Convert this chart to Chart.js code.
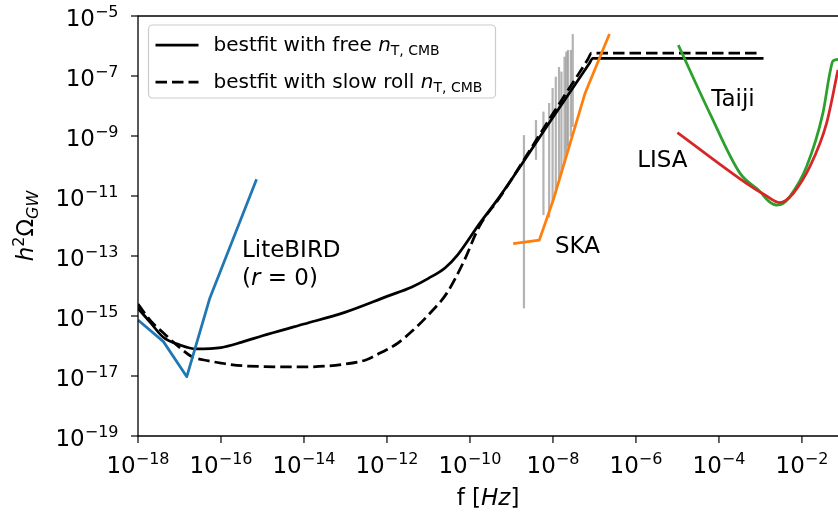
<!DOCTYPE html>
<html lang="en">
<head>
<meta charset="UTF-8">
<title>h2 Omega_GW vs frequency</title>
<script src="https://cdn.jsdelivr.net/npm/chart.js@4.4.1/dist/chart.umd.min.js"></script>
<style>
  html, body { margin: 0; padding: 0; background: #fff; }
  #chart { display: block; }
</style>
</head>
<body>
<canvas id="chart" width="838" height="517"></canvas>
<script>
// values: f in Hz, h^2 Omega_GW
const freeF = [1e-18, 2e-18, 4e-18, 1e-17, 2.5e-17, 1e-16, 3.2e-16, 1e-15, 1e-14, 1e-13, 1e-12, 4e-12, 1e-11, 2.5e-11, 5e-11, 1.7e-10, 5.2e-10, 1e-8, 7.5e-8, 9.1e-8, 1.1e-3];
const freeH = [1.8e-15, 6e-16, 2e-16, 1.1e-16, 8e-17, 8.9e-17, 1.35e-16, 2.2e-16, 5.4e-16, 1.35e-15, 4.5e-15, 9.3e-15, 1.8e-14, 4e-14, 1.07e-13, 1.2e-12, 9.5e-12, 4.2e-9, 2.6e-7, 3.9e-7, 3.9e-7];

const slowF = [1e-18, 2e-18, 4e-18, 1e-17, 2e-17, 5e-17, 1e-16, 3.2e-16, 1e-14, 1e-13, 3.2e-13, 6.8e-13, 1.6e-12, 4.3e-12, 1.1e-11, 2.8e-11, 7e-11, 1.7e-10, 5.2e-10, 1e-8, 7e-8, 8.5e-8, 1.02e-3];
const slowH = [2.5e-15, 7e-16, 2.8e-16, 9e-17, 4.4e-17, 3.2e-17, 2.7e-17, 2.2e-17, 2e-17, 2.5e-17, 3.5e-17, 5.8e-17, 1.1e-16, 3.4e-16, 1.26e-15, 5.9e-15, 6.3e-14, 1e-12, 8.9e-12, 5.6e-9, 3.7e-7, 5.8e-7, 5.8e-7];

const lbF = [1e-18, 4.1e-18, 1.5e-17, 5.4e-17, 7.2e-16];
const lbH = [7.4e-16, 1.4e-16, 9.5e-18, 4e-15, 3.6e-11];

const skaF = [1.1e-9, 4.7e-9, 1.02e-8, 5.9e-8, 2.3e-7];
const skaH = [2.6e-13, 3.4e-13, 7.4e-12, 2.6e-8, 2.5e-6];

// pulsar timing bars (vertical segments)
const ptaF  = [2.0e-9, 3.9e-9, 5.9e-9, 8.1e-9, 9.8e-9, 1.17e-8, 1.4e-8, 1.6e-8, 1.9e-8, 2.1e-8, 2.3e-8, 2.7e-8, 3.0e-8];
const ptaLo = [1.8e-15, 1.6e-10, 2.3e-12, 1.9e-12, 5.9e-12, 1.2e-11, 3.4e-11, 5.9e-11, 1.2e-10, 2.6e-10, 4.4e-10, 9.5e-10, 2e-9];
const ptaHi = [1.07e-9, 3.4e-9, 6.5e-9, 1.26e-8, 4e-8, 9.5e-8, 2e-7, 1.4e-7, 4.4e-7, 6.5e-7, 7.4e-7, 7.4e-7, 2.5e-6];

const tjF = [1.05e-5, 6e-5, 3.2e-4, 9.8e-4, 1.6e-3, 2.45e-3, 3.5e-3, 5.1e-3, 1.29e-2, 3.2e-2, 4.7e-2, 5.6e-2, 7.9e-2];
const tjH = [1.07e-6, 5.8e-9, 5.8e-11, 1.4e-11, 6.6e-12, 5e-12, 5.6e-12, 9.5e-12, 9.5e-11, 5.8e-9, 1.23e-7, 3.2e-7, 3.6e-7];

const lisaF = [1e-5, 4.7e-4, 1.26e-3, 2.95e-3, 4e-3, 6.2e-3, 1.55e-2, 3.9e-2, 7.4e-2];
const lisaH = [1.3e-9, 2.6e-11, 1.1e-11, 6e-12, 7e-12, 1.23e-11, 9.5e-11, 2.6e-9, 1.6e-7];

// tick labels, as powers of ten
const xTickExp = [-18, -16, -14, -12, -10, -8, -6, -4, -2];
const yTickExp = [-19, -17, -15, -13, -11, -9, -7, -5];

const FONT = '"DejaVu Sans", sans-serif';
const BIG = 23, SMALL = 16;

function font(size, italic) {
    return (italic ? 'italic ' : '') + size + 'px ' + FONT;
}

// mathtext-ish: draw pieces one after another on one baseline
function partsWidth(ctx, parts) {
    let w = 0;
    parts.forEach(p => { ctx.font = font(p.size, p.italic); w += ctx.measureText(p.text).width; });
    return w;
}
function drawParts(ctx, parts, x, y) {
    parts.forEach(p => {
        ctx.font = font(p.size, p.italic);
        ctx.fillText(p.text, x, y + (p.dy || 0));
        x += ctx.measureText(p.text).width;
    });
    return x;
}
function powParts(e) {
    return [{ text: '10', size: BIG }, { text: '\u2212' + Math.abs(e), size: SMALL, dy: -9 }];
}

function pts(fs, hs) {
    return fs.map((f, i) => ({ x: f, y: hs[i] }));
}
function line(label, fs, hs, color, extra) {
    return Object.assign({
        label: label,
        data: pts(fs, hs),
        showLine: true,
        borderColor: color,
        borderWidth: 2.75,
        pointRadius: 0,
        tension: 0,
        borderJoinStyle: 'round'
    }, extra);
}

const smooth = { cubicInterpolationMode: 'monotone' };
const datasets = [
    line('LISA', lisaF, lisaH, '#d62728', Object.assign({ order: 0 }, smooth)),
    line('Taiji', tjF, tjH, '#2ca02c', Object.assign({ order: 1 }, smooth)),
    line('SKA', skaF, skaH, '#ff7f0e', { order: 2 }),
    line('LiteBIRD', lbF, lbH, '#1f77b4', { order: 3 }),
    line('slow', slowF, slowH, '#000', Object.assign({ order: 4, borderDash: [11.5, 5] }, smooth)),
    line('free', freeF, freeH, '#000', Object.assign({ order: 5, borderCapStyle: 'square' }, smooth))
];
ptaF.forEach((f, i) => {
    datasets.push(line('PTA', [f, f], [ptaLo[i], ptaHi[i]], 'rgba(128,128,128,0.6)', { order: 6, borderWidth: 2.2 }));
});

// text placed in data coordinates (left, baseline)
const notes = [
    { f: 3.2e-16, h: 9.3e-14, parts: [{ text: 'LiteBIRD', size: BIG }] },
    { f: 3.2e-16, h: 9.3e-14, dy: 28, parts: [{ text: '(', size: BIG }, { text: 'r', size: BIG, italic: true }, { text: ' = 0)', size: BIG }] },
    { f: 1.12e-8, h: 1.23e-13, parts: [{ text: 'SKA', size: BIG }] },
    { f: 6.5e-5, h: 1e-8, parts: [{ text: 'Taiji', size: BIG }] },
    { f: 1.07e-6, h: 9.5e-11, parts: [{ text: 'LISA', size: BIG }] }
];

const legendRows = [
    { text: 'bestfit with free ', dash: [] },
    { text: 'bestfit with slow roll ', dash: [11.5, 5] }
];

const decor = {
    id: 'decor',
    afterDatasetsDraw(chart) {
        const ctx = chart.ctx;
        const a = chart.chartArea;
        const xs = chart.scales.x, ys = chart.scales.y;
        ctx.save();
        ctx.fillStyle = '#000';
        ctx.textBaseline = 'alphabetic';
        ctx.textAlign = 'left';

        // spines: left, bottom, top
        ctx.strokeStyle = '#000';
        ctx.lineWidth = 1.3;
        ctx.beginPath();
        ctx.moveTo(a.right, a.top);
        ctx.lineTo(a.left, a.top);
        ctx.lineTo(a.left, a.bottom);
        ctx.lineTo(a.right, a.bottom);
        ctx.stroke();

        // tick marks + labels
        ctx.lineWidth = 1.2;
        xTickExp.forEach(e => {
            const p = powParts(e);
            const x = xs.getPixelForValue(Math.pow(10, e));
            ctx.beginPath();
            ctx.moveTo(x, a.bottom);
            ctx.lineTo(x, a.bottom + 7);
            ctx.stroke();
            drawParts(ctx, p, x - partsWidth(ctx, p) / 2, a.bottom + 37);
        });
        yTickExp.forEach(e => {
            const p = powParts(e);
            const y = ys.getPixelForValue(Math.pow(10, e));
            ctx.beginPath();
            ctx.moveTo(a.left - 7, y);
            ctx.lineTo(a.left, y);
            ctx.stroke();
            drawParts(ctx, p, a.left - 19.5 - partsWidth(ctx, p), y + 10);
        });

        // axis titles
        const xt = [{ text: 'f [', size: BIG }, { text: 'Hz', size: BIG, italic: true }, { text: ']', size: BIG }];
        drawParts(ctx, xt, (a.left + a.right) / 2 - partsWidth(ctx, xt) / 2, 505);

        const yt = [{ text: 'h', size: BIG, italic: true }, { text: '2', size: SMALL, dy: -9 },
                    { text: '\u03A9', size: BIG }, { text: 'GW', size: SMALL, italic: true, dy: 5 }];
        ctx.save();
        ctx.translate(33, (a.top + a.bottom) / 2);
        ctx.rotate(-Math.PI / 2);
        drawParts(ctx, yt, -partsWidth(ctx, yt) / 2, 0);
        ctx.restore();

        // annotations
        notes.forEach(n => {
            drawParts(ctx, n.parts, xs.getPixelForValue(n.f), ys.getPixelForValue(n.h) + (n.dy || 0));
        });

        // legend
        const bx = a.left + 10.5, by = a.top + 9, bw = 347, bh = 73;
        ctx.beginPath();
        ctx.roundRect(bx, by, bw, bh, 4);
        ctx.fillStyle = 'rgba(255,255,255,0.8)';
        ctx.fill();
        ctx.strokeStyle = '#cccccc';
        ctx.lineWidth = 1.2;
        ctx.stroke();

        legendRows.forEach((r, i) => {
            const base = by + 26 + i * 37;
            ctx.strokeStyle = '#000';
            ctx.lineWidth = 2.75;
            ctx.setLineDash(r.dash);
            ctx.beginPath();
            ctx.moveTo(bx + 7, base - 6);
            ctx.lineTo(bx + 50, base - 6);
            ctx.stroke();
            ctx.setLineDash([]);
            ctx.fillStyle = '#000';
            drawParts(ctx, [
                { text: r.text, size: 20 },
                { text: 'n', size: 20, italic: true },
                { text: 'T, CMB', size: 14, dy: 4 }
            ], bx + 65, base);
        });
        ctx.restore();
    }
};

function axis(min, max, ticksExp, fit) {
    return {
        type: 'logarithmic',
        min: min,
        max: max,
        grid: { display: false },
        border: { display: false },
        ticks: { display: false },
        afterBuildTicks: s => { s.ticks = ticksExp.map(e => ({ value: Math.pow(10, e) })); },
        afterFit: fit
    };
}

new Chart(document.getElementById('chart'), {
    type: 'scatter',
    data: { datasets: datasets },
    plugins: [decor],
    options: {
        responsive: false,
        animation: false,
        devicePixelRatio: 1,
        layout: { padding: { top: 16, right: 0, bottom: 0, left: 0 } },
        plugins: { legend: { display: false }, tooltip: { enabled: false } },
        scales: {
            x: axis(1e-18, 0.074, xTickExp, s => { s.height = 81; }),
            y: axis(1e-19, 1e-5, yTickExp, s => { s.width = 138; })
        }
    }
});
</script>
</body>
</html>
